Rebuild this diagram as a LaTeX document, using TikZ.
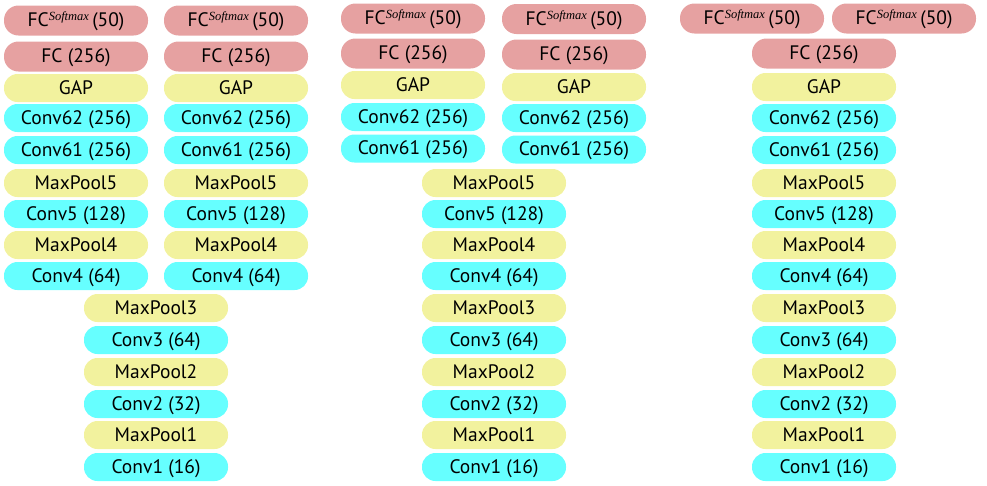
\documentclass[tikz,border=0pt]{standalone}
\usepackage{fontspec}
\setmainfont{PT Sans}
\newfontfamily\supfont{Liberation Serif}
\definecolor{fcpink}{HTML}{E6A1A1}
\definecolor{poolyellow}{HTML}{F2F29E}
\definecolor{convcyan}{HTML}{66FFFF}
\newcommand{\fcsm}{FC\raisebox{6pt}{\fontsize{12.5}{12.5}\selectfont\supfont\itshape Softmax}\,(50)}
\tikzset{
  pill/.style={rectangle, rounded corners=13.5pt, minimum width=144pt,
    minimum height=28pt, inner sep=0pt, text=black,
    text height=13pt, text depth=1pt,
    font=\fontsize{19.5}{21}\selectfont},
  fcbox/.style={pill, fill=fcpink, minimum height=30pt, rounded corners=14.5pt},
  poolbox/.style={pill, fill=poolyellow},
  convbox/.style={pill, fill=convcyan},
}
\begin{document}
\begin{tikzpicture}[x=1pt,y=-1pt]
\useasboundingbox (0,0) rectangle (987,485);

% ---- two-branch network split after Conv4 ----
\foreach \b/\x in {a/76, b/236}{
  \node[fcbox]   (n1\b-sm)  at (\x,20.5) {\fcsm};
  \node[fcbox]   (n1\b-fc)  at (\x,56.5) {FC (256)};
  \node[poolbox] (n1\b-gap) at (\x,88)   {GAP};
  \node[convbox] (n1\b-c62) at (\x,118)  {Conv62 (256)};
  \node[convbox] (n1\b-c61) at (\x,150)  {Conv61 (256)};
  \node[poolbox] (n1\b-p5)  at (\x,183)  {MaxPool5};
  \node[convbox] (n1\b-c5)  at (\x,214)  {Conv5 (128)};
  \node[poolbox] (n1\b-p4)  at (\x,245)  {MaxPool4};
  \node[convbox] (n1\b-c4)  at (\x,276)  {Conv4 (64)};
}
\node[poolbox] (n1-p3) at (156,308) {MaxPool3};
\node[convbox] (n1-c3) at (156,340) {Conv3 (64)};
\node[poolbox] (n1-p2) at (156,372) {MaxPool2};
\node[convbox] (n1-c2) at (156,404) {Conv2 (32)};
\node[poolbox] (n1-p1) at (156,435) {MaxPool1};
\node[convbox] (n1-c1) at (156,467) {Conv1 (16)};

% ---- two-branch network split after MaxPool5 ----
\node[fcbox]   (n2a-sm)  at (413,18.5) {\fcsm};
\node[fcbox]   (n2a-fc)  at (413,53.5) {FC (256)};
\node[poolbox] (n2a-gap) at (413,85)   {GAP};
\node[convbox] (n2a-c62) at (413,117)  {Conv62 (256)};
\node[convbox] (n2a-c61) at (413,148.5){Conv61 (256)};
\node[fcbox]   (n2b-sm)  at (574,19)   {\fcsm};
\node[fcbox]   (n2b-fc)  at (574,54.5) {FC (256)};
\node[poolbox] (n2b-gap) at (574,87)   {GAP};
\node[convbox] (n2b-c62) at (574,118)  {Conv62 (256)};
\node[convbox] (n2b-c61) at (574,149.5){Conv61 (256)};
\node[poolbox] (n2-p5) at (494,183) {MaxPool5};
\node[convbox] (n2-c5) at (494,214) {Conv5 (128)};
\node[poolbox] (n2-p4) at (494,245) {MaxPool4};
\node[convbox] (n2-c4) at (494,276) {Conv4 (64)};
\node[poolbox] (n2-p3) at (494,308) {MaxPool3};
\node[convbox] (n2-c3) at (494,340) {Conv3 (64)};
\node[poolbox] (n2-p2) at (494,372) {MaxPool2};
\node[convbox] (n2-c2) at (494,404) {Conv2 (32)};
\node[poolbox] (n2-p1) at (494,435) {MaxPool1};
\node[convbox] (n2-c1) at (494,467) {Conv1 (16)};

% ---- shared trunk with two softmax heads ----
\node[fcbox]   (n3a-sm) at (752,18.5) {\fcsm};
\node[fcbox]   (n3b-sm) at (904,18.5) {\fcsm};
\node[fcbox]   (n3-fc)  at (824,53.5) {FC (256)};
\node[poolbox] (n3-gap) at (824,87)   {GAP};
\node[convbox] (n3-c62) at (824,118)  {Conv62 (256)};
\node[convbox] (n3-c61) at (824,150)  {Conv61 (256)};
\node[poolbox] (n3-p5) at (824,183) {MaxPool5};
\node[convbox] (n3-c5) at (824,214) {Conv5 (128)};
\node[poolbox] (n3-p4) at (824,245) {MaxPool4};
\node[convbox] (n3-c4) at (824,276) {Conv4 (64)};
\node[poolbox] (n3-p3) at (824,308) {MaxPool3};
\node[convbox] (n3-c3) at (824,340) {Conv3 (64)};
\node[poolbox] (n3-p2) at (824,372) {MaxPool2};
\node[convbox] (n3-c2) at (824,404) {Conv2 (32)};
\node[poolbox] (n3-p1) at (824,435) {MaxPool1};
\node[convbox] (n3-c1) at (824,467) {Conv1 (16)};
\end{tikzpicture}
\end{document}
